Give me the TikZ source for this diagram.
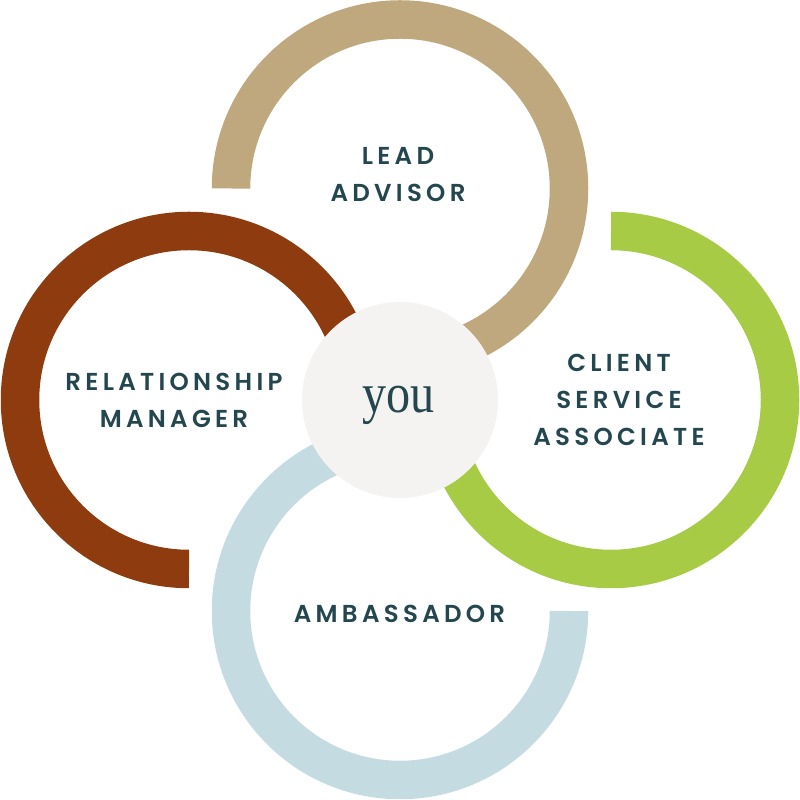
\documentclass[tikz,border=0pt]{standalone}
\usepackage{fontspec}
\newfontfamily\lblfont{Poppins}[UprightFont=* SemiBold, LetterSpace=17.5]
\newfontfamily\youfont{Liberation Serif}
\definecolor{tanc}{HTML}{BFA87E}
\definecolor{brownc}{HTML}{8E3C0F}
\definecolor{greenc}{HTML}{A8CB45}
\definecolor{bluec}{HTML}{C5DBE2}
\definecolor{centc}{HTML}{F5F3F1}
\definecolor{txtc}{HTML}{23464F}
\begin{document}
\begin{tikzpicture}[x=1pt,y=1pt,
  ring/.style={line width=38.5pt},
  lbl/.style={text=txtc, align=center, inner sep=0pt, font=\lblfont\fontsize{24.5}{37}\selectfont},
]
\useasboundingbox (0,0) rectangle (800,800);
\coordinate (cT) at (400,611.5);
\coordinate (cL) at (189,400);
\coordinate (cR) at (611,400);
\coordinate (cB) at (400,189);
\draw[ring, tanc]   (cT) ++(180:169) arc[start angle=180, end angle=-90, radius=169];
\draw[ring, brownc] (cL) ++(270:169) arc[start angle=270, end angle=0, radius=169];
\draw[ring, greenc] (cR) ++(90:169)  arc[start angle=90, end angle=-180, radius=169];
\draw[ring, bluec]  (cB) ++(0:169)   arc[start angle=0, end angle=-270, radius=169];
\node[circle, fill=centc, minimum size=196pt, inner sep=0pt] (hub) at (400,400) {};
\node[anchor=base, text=txtc, inner sep=0pt, font=\youfont\fontsize{56}{60}\selectfont, xscale=0.86, transform shape] (you) at (398.5,387) {you};
\node[lbl] (lead) at (398,625.5) {LEAD\\ADVISOR};
\node[lbl] (rm) at (174,400) {RELATIONSHIP\\MANAGER};
\node[lbl] (csa) at (619,400.5) {CLIENT\\SERVICE\\ASSOCIATE};
\node[lbl] (amb) at (399.5,186) {AMBASSADOR};
\end{tikzpicture}
\end{document}
